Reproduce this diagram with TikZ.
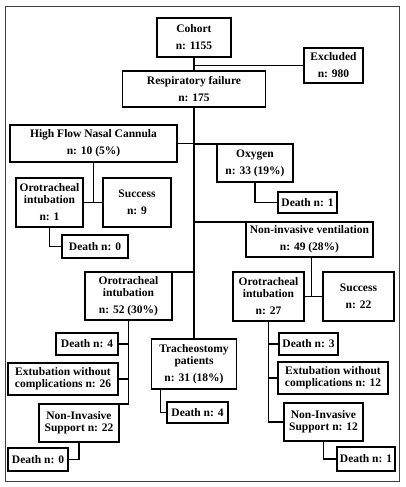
\documentclass[tikz,border=0pt]{standalone}
\usepackage{fontspec}
\setmainfont{Liberation Serif}
\usepackage{tikz}
\usetikzlibrary{calc, positioning}
\tikzset{
    stage/.style={rectangle, draw=black, line width=1.8pt, fill=white, align=center, inner sep=1pt, outer sep=0pt, font=\fontsize{11.5pt}{12pt}\selectfont\bfseries},
    link/.style={draw=black, line width=1.5pt},
    frame/.style={draw=black!75, line width=0.8pt}
}

\begin{document}
\begin{tikzpicture}[node distance=10pt]
        \useasboundingbox (0,0) rectangle (405pt,-487pt);
        \draw[frame] (5pt,-6pt) rectangle (399pt,-481pt);

        % Cohort
        \node[stage, minimum width=74pt, minimum height=39pt] (Cohort) at (194pt,-37.5pt) {Cohort\\[5pt]n: 1155};
        \node[stage, right=73pt of Cohort, yshift=-28pt, minimum width=59pt, minimum height=35pt] (Excluded) {Excluded\\[5pt]n: 980};
        \node[stage, below=14pt of Cohort, minimum width=143pt, minimum height=36pt] (Resp) {Respiratory failure\\[5pt]n: 175};

        % High flow branch
        \node[stage, below=18pt of Resp, xshift=-100.5pt, minimum width=167pt, minimum height=37pt] (HFNC) {High Flow Nasal Cannula\\[5pt]n: 10 (5\%)};
        \node[stage, below=16pt of HFNC, xshift=-44pt, minimum width=67pt, minimum height=49pt] (OroOne) {Orotracheal\\intubation\\[5pt]n: 1};
        \node[stage, right=20pt of OroOne, minimum width=68pt, minimum height=49pt] (SuccNine) {Success\\[5pt]n: 9};
        \node[stage, below=8pt of OroOne, xshift=45.5pt, minimum width=66pt, minimum height=23pt] (DeathHF) {Death n: 0};

        % Oxygen branch
        \node[stage, below=37pt of Resp, xshift=61pt, minimum width=76pt, minimum height=38pt] (Oxy) {Oxygen\\[5pt]n: 33 (19\%)};
        \node[stage, below=10pt of Oxy, xshift=52.5pt, minimum width=59pt, minimum height=21pt] (DeathOxy) {Death n: 1};

        % Non-invasive ventilation branch
        \node[stage, below=9pt of DeathOxy, xshift=2pt, minimum width=127pt, minimum height=35pt] (NIV) {Non-invasive ventilation\\[5pt]n: 49 (28\%)};
        \node[stage, below=15pt of NIV, xshift=-41pt, minimum width=71pt, minimum height=49pt] (OroNIV) {Orotracheal\\intubation\\[5pt]n: 27};
        \node[stage, right=19pt of OroNIV, minimum width=71pt, minimum height=49pt] (SuccNIV) {Success\\[5pt]n: 22};
        \node[stage, below=12pt of OroNIV, xshift=40pt, minimum width=59pt, minimum height=22pt] (DeathNIV) {Death n: 3};
        \node[stage, below=7pt of DeathNIV, xshift=24.5pt, minimum width=110pt, minimum height=32pt] (ExtNIV) {Extubation without\\complications n: 12};
        \node[stage, below=9pt of ExtNIV, xshift=-9.5pt, minimum width=79pt, minimum height=38pt] (SupNIV) {Non-Invasive\\Support n: 12};
        \node[stage, below=6pt of SupNIV, xshift=42.5pt, minimum width=58pt, minimum height=24pt] (DeathSupNIV) {Death n: 1};

        % Orotracheal intubation branch
        \node[stage, below=14pt of DeathHF, xshift=33.5pt, minimum width=87pt, minimum height=48pt] (Oro) {Orotracheal\\intubation\\[5pt]n: 52 (30\%)};
        \node[stage, below=13pt of Oro, xshift=-41.5pt, minimum width=62pt, minimum height=22pt] (DeathOro) {Death n: 4};
        \node[stage, below=8pt of DeathOro, xshift=-24pt, minimum width=110pt, minimum height=32pt] (ExtOro) {Extubation without\\complications n: 26};
        \node[stage, below=9pt of ExtOro, xshift=16pt, minimum width=80pt, minimum height=38pt] (SupOro) {Non-Invasive\\Support n: 22};
        \node[stage, below=6pt of SupOro, xshift=-41pt, minimum width=60pt, minimum height=23pt] (DeathSupOro) {Death n: 0};

        % Tracheostomy branch
        \node[stage, below=19pt of Oro, xshift=65.5pt, minimum width=85pt, minimum height=50pt] (Trach) {Tracheostomy\\patients\\[5pt]n: 31 (18\%)};
        \node[stage, below=13pt of Trach, xshift=3.5pt, minimum width=61pt, minimum height=21pt] (DeathTrach) {Death n: 4};

        % Connections
        \draw[link] (Cohort) -- (Resp);
        \draw[link] (Excluded.west) -- (Excluded.west -| Resp.north);
        \draw[link] (Resp.south) |- (HFNC.east);
        \draw[link] (Resp.south) |- (Oxy.north);
        \draw[link] (Resp.south) |- (NIV.north);
        \draw[link] (Resp.south) |- (Oro.north);
        \draw[link] (Resp.south) -- (Trach.north);

        \draw[link] (HFNC.south) -- (HFNC.south |- OroOne.east);
        \draw[link] (OroOne.east) -- (SuccNine.west);
        \draw[link] (OroOne.south) |- (DeathHF.west);
        \draw[link] (Oxy.south) |- (DeathOxy.west);

        \draw[link] ([xshift=2pt]NIV.south) -- ([xshift=2pt]NIV.south |- OroNIV.east);
        \draw[link] (OroNIV.east) -- (SuccNIV.west);
        \draw[link] (OroNIV.south) |- (DeathNIV.west);
        \draw[link] (OroNIV.south) |- (ExtNIV.west);
        \draw[link] (OroNIV.south) |- (SupNIV.west);
        \draw[link] (SupNIV.south) |- (DeathSupNIV.west);

        \draw[link] (Oro.south) |- (DeathOro.east);
        \draw[link] (Oro.south) |- (ExtOro.east);
        \draw[link] (Oro.south) |- (SupOro.north);
        \draw[link] (SupOro.south) |- (DeathSupOro.east);

        \draw[link] ([xshift=9pt]Trach.south west) |- (DeathTrach.west);

    \end{tikzpicture}
\end{document}
